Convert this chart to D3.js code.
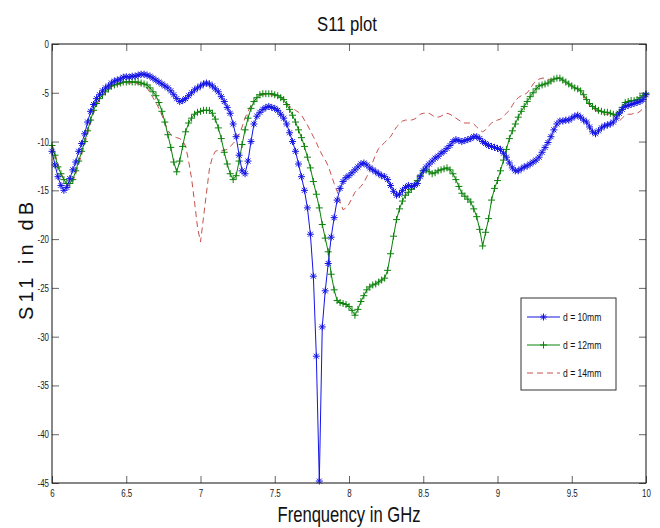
<!DOCTYPE html>
<html>
<head>
<meta charset="utf-8">
<script src="https://cdn.jsdelivr.net/npm/d3@7"></script>
<style>
  body { margin: 0; background: #fff; }
  svg { display: block; }
</style>
</head>
<body>
<svg id="chart" width="660" height="528"></svg>
<script>
// Frequency sweep: 6 GHz to 10 GHz in 0.02 GHz steps (201 samples)
const fStart = 6;
const fStep = 0.02;

// Return loss S11 (dB) for slot spacing d = 10 mm
const s11_d10 = [
  -11.0, -12.4, -13.6, -14.5, -15.0, -14.7, -13.8, -12.9, -12.1, -11.0,
  -10.2, -9.2, -8.0, -6.9, -6.2, -5.6, -5.2, -4.8, -4.5, -4.3,
  -4.0, -3.8, -3.7, -3.6, -3.4, -3.35, -3.4, -3.3, -3.3, -3.2,
  -3.1, -3.1, -3.2, -3.3, -3.5, -3.7, -3.9, -4.1, -4.3, -4.5,
  -4.8, -5.2, -5.6, -5.9, -5.8, -5.6, -5.3, -5.0, -4.7, -4.5,
  -4.3, -4.1, -4.0, -4.1, -4.3, -4.6, -4.9, -5.4, -5.9, -6.5,
  -7.1, -8.2, -9.5, -11.4, -13.0, -13.3, -12.0, -10.0, -8.2, -7.4,
  -7.0, -6.7, -6.5, -6.4, -6.5, -6.6, -6.8, -7.2, -7.6, -8.2,
  -9.1, -10.0, -11.0, -12.3, -13.6, -15.0, -16.8, -19.5, -23.8, -32.0,
  -44.8, -29.0, -25.3, -22.5, -19.8, -17.8, -16.0, -14.8, -14.1, -13.7,
  -13.5, -13.2, -12.9, -12.6, -12.3, -12.2, -12.4, -12.7, -12.9, -13.1,
  -13.3, -13.5, -13.6, -13.9, -14.5, -15.1, -15.5, -15.4, -15.0, -14.7,
  -14.5, -14.6, -14.5, -14.3, -13.6, -13.0, -12.6, -12.3, -12.0, -11.7,
  -11.5, -11.2, -11.0, -10.7, -10.4, -10.0, -9.8, -9.9, -10.0, -9.9,
  -9.8, -9.7, -9.5, -9.5, -9.7, -10.0, -10.2, -10.4, -10.5, -10.6,
  -10.7, -10.8, -11.2, -11.6, -12.2, -12.7, -13.0, -13.0, -12.8, -12.6,
  -12.5, -12.3, -12.1, -11.9, -11.6, -11.1, -10.6, -10.1, -9.5, -8.8,
  -8.2, -7.9, -7.9, -7.8, -7.8, -7.6, -7.4, -7.3, -7.5, -7.8,
  -8.0, -8.5, -9.0, -9.2, -8.9, -8.6, -8.4, -8.3, -8.2, -8.0,
  -7.6, -7.1, -6.7, -6.4, -6.3, -6.2, -6.1, -6.0, -5.9, -5.7,
  -5.2
];

// Return loss S11 (dB) for d = 12 mm
const s11_d12 = [
  -10.4, -11.4, -12.6, -13.3, -13.9, -14.3, -14.3, -13.9, -13.0, -12.0,
  -11.0, -10.0, -8.9, -7.8, -6.8, -6.1, -5.6, -5.2, -4.9, -4.6,
  -4.3, -4.2, -4.1, -4.0, -3.9, -3.9, -3.85, -3.9, -3.9, -3.9,
  -4.0, -4.1, -4.2, -4.5, -4.9, -5.3, -6.0, -6.9, -8.0, -9.3,
  -10.6, -12.1, -13.1, -12.0, -10.5, -9.0, -8.1, -7.6, -7.2, -7.0,
  -6.9, -6.8, -6.8, -6.8, -7.1, -7.7, -8.6, -9.7, -11.1, -12.3,
  -13.3, -13.9, -13.5, -12.0, -10.3, -8.8, -7.6, -6.6, -5.9, -5.5,
  -5.2, -5.1, -5.1, -5.1, -5.1, -5.2, -5.3, -5.5, -5.7, -6.2,
  -6.7, -7.3, -8.0, -8.8, -9.6, -10.5, -11.6, -12.7, -14.1, -15.4,
  -16.8, -18.5, -19.9, -21.3, -23.6, -25.2, -26.3, -26.5, -26.6, -26.7,
  -26.9, -27.3, -27.8, -27.2, -26.4, -25.8, -25.2, -24.9, -24.7, -24.6,
  -24.4, -24.2, -24.0, -23.2, -21.5, -19.7, -18.0, -16.9, -16.1, -15.5,
  -15.2, -14.9, -14.5, -14.0, -13.5, -13.0, -12.9, -13.1, -13.3, -13.2,
  -13.0, -12.9, -12.8, -12.7, -12.9, -13.3, -13.9, -14.6, -15.3, -15.6,
  -15.9, -16.2, -16.9, -17.7, -19.0, -20.7, -19.3, -17.9, -16.0, -14.8,
  -14.0, -13.0, -11.9, -10.8, -9.7, -8.9, -8.2, -7.5, -6.9, -6.4,
  -5.9, -5.4, -5.0, -4.6, -4.3, -4.2, -4.1, -4.0, -3.8, -3.6,
  -3.5, -3.5, -3.7, -3.9, -4.1, -4.3, -4.5, -4.6, -4.8, -5.2,
  -5.7, -6.1, -6.4, -6.6, -6.8, -6.9, -7.0, -7.0, -7.1, -7.2,
  -7.3, -7.0, -6.5, -6.0, -5.9, -5.8, -5.8, -5.7, -5.5, -5.3,
  -5.1
];

// Return loss S11 (dB) for d = 14 mm
const s11_d14 = [
  -10.3, -11.2, -12.3, -13.2, -13.9, -14.4, -14.5, -14.1, -13.3, -12.3,
  -11.3, -10.3, -9.2, -8.1, -7.1, -6.3, -5.7, -5.3, -5.0, -4.7,
  -4.4, -4.3, -4.2, -4.1, -4.0, -4.0, -4.0, -4.0, -4.0, -4.1,
  -4.2, -4.3, -4.5, -5.0, -5.5, -6.0, -6.6, -7.3, -8.1, -8.8,
  -9.3, -9.5, -9.6, -9.7, -9.9, -10.5, -12.0, -13.8, -16.2, -18.8,
  -20.3, -17.8, -15.3, -12.8, -11.6, -11.0, -10.9, -10.9, -10.9, -10.8,
  -10.5, -10.2, -9.8, -9.3, -8.5, -7.6, -6.9, -6.3, -5.9, -5.5,
  -5.3, -5.2, -5.2, -5.2, -5.2, -5.3, -5.3, -5.4, -5.6, -6.0,
  -6.4, -6.6, -6.8, -7.0, -7.3, -7.8, -8.3, -8.9, -9.5, -10.1,
  -10.8, -11.4, -11.9, -12.5, -13.4, -14.3, -15.1, -16.2, -17.0, -16.8,
  -16.4, -15.8, -15.2, -14.9, -14.6, -14.2, -13.6, -12.9, -12.1, -11.3,
  -10.7, -10.4, -10.1, -9.8, -9.5, -9.0, -8.5, -8.2, -7.9, -7.8,
  -7.8, -7.8, -7.7, -7.5, -7.2, -7.1, -7.1, -7.1, -7.3, -7.5,
  -7.5, -7.4, -7.2, -7.1, -7.2, -7.4, -7.6, -7.8, -8.0, -8.1,
  -8.1, -8.1, -8.2, -8.5, -8.8, -9.0, -8.8, -8.4, -8.1, -7.9,
  -7.8, -7.7, -7.4, -7.1, -6.8, -6.3, -5.8, -5.5, -5.3, -5.2,
  -5.0, -4.6, -4.1, -3.8, -3.6, -3.5, -3.5, -3.6, -3.7, -3.6,
  -3.5, -3.5, -3.7, -3.9, -4.1, -4.3, -4.5, -4.6, -4.8, -5.3,
  -5.9, -6.3, -6.6, -6.8, -7.0, -7.1, -7.2, -7.2, -7.3, -7.3,
  -7.6, -7.9, -7.6, -7.3, -7.2, -7.2, -7.1, -7.1, -6.9, -6.6,
  -6.4
];

const seriesLabels = ["d = 10mm", "d = 12mm", "d = 14mm"];
const xTicks = [6, 6.5, 7, 7.5, 8, 8.5, 9, 9.5, 10];
const yTicks = [0, -5, -10, -15, -20, -25, -30, -35, -40, -45];

// ---- layout ----
const svg = d3.select("#chart");
const plot = { left: 52, top: 44, right: 646, bottom: 483 };
const x = d3.scaleLinear().domain([6, 10]).range([plot.left, plot.right]);
const y = d3.scaleLinear().domain([0, -45]).range([plot.top, plot.bottom]);
const freqAt = i => fStart + i * fStep;

const narrow = "'Liberation Sans Narrow', 'Arial Narrow', 'Liberation Sans', sans-serif";

// squeeze a text element horizontally to a fraction of its natural width
function condense(sel, k) {
  sel.each(function () {
    const w = this.getComputedTextLength();
    if (w > 0) {
      d3.select(this).attr("textLength", w * k).attr("lengthAdjust", "spacingAndGlyphs");
    }
  });
}

// ---- axes (inward ticks on all four sides, MATLAB-style box) ----
function styleAxis(g) {
  g.select(".domain").remove();
  g.selectAll(".tick line").attr("stroke", "#666").attr("stroke-width", 1);
  g.selectAll(".tick text")
    .attr("font-family", narrow)
    .attr("font-size", 11)
    .attr("fill", "#222")
    .call(condense, 0.72);
}

svg.append("g")
  .attr("transform", `translate(0,${plot.bottom})`)
  .call(d3.axisBottom(x).tickValues(xTicks).tickSize(-7).tickPadding(6).tickFormat(d => String(d)))
  .call(styleAxis);

svg.append("g")
  .attr("transform", `translate(0,${plot.top})`)
  .call(d3.axisTop(x).tickValues(xTicks).tickSize(-7).tickFormat(""))
  .call(styleAxis);

svg.append("g")
  .attr("transform", `translate(${plot.left},0)`)
  .call(d3.axisLeft(y).tickValues(yTicks).tickSize(-7).tickPadding(3).tickFormat(d => String(d)))
  .call(styleAxis);

svg.append("g")
  .attr("transform", `translate(${plot.right},0)`)
  .call(d3.axisRight(y).tickValues(yTicks).tickSize(-7).tickFormat(""))
  .call(styleAxis);

// ---- curves ----
const series = [
  { values: s11_d14, color: "#c8504c", width: 1, dash: "6,4", marker: null },
  { values: s11_d12, color: "#0a820a", width: 1, dash: null, marker: "plus" },
  { values: s11_d10, color: "#1414e6", width: 1, dash: null, marker: "star" }
];

const markerPath = {
  plus: "M-3.5,0H3.5M0,-3.5V3.5",
  star: "M-3.5,0H3.5M0,-3.5V3.5M-2.5,-2.5L2.5,2.5M-2.5,2.5L2.5,-2.5"
};

const line = d3.line()
  .x((d, i) => x(freqAt(i)))
  .y(d => y(d));

const curves = svg.append("g");
series.forEach(s => {
  const g = curves.append("g");
  g.append("path")
    .datum(s.values)
    .attr("fill", "none")
    .attr("stroke", s.color)
    .attr("stroke-width", s.width)
    .attr("stroke-dasharray", s.dash)
    .attr("d", line);
  if (s.marker) {
    g.selectAll("path.mk")
      .data(s.values)
      .join("path")
      .attr("class", "mk")
      .attr("d", markerPath[s.marker])
      .attr("transform", (d, i) => `translate(${x(freqAt(i))},${y(d)})`)
      .attr("fill", "none")
      .attr("stroke", s.color)
      .attr("stroke-width", 1);
  }
});

// ---- plot box ----
svg.append("rect")
  .attr("x", plot.left).attr("y", plot.top)
  .attr("width", plot.right - plot.left).attr("height", plot.bottom - plot.top)
  .attr("fill", "none").attr("stroke", "#111").attr("stroke-width", 1);

// ---- legend ----
const legendOrder = [series[2], series[1], series[0]];
const legend = svg.append("g").attr("transform", "translate(521,298)");
legend.append("rect")
  .attr("width", 95).attr("height", 92)
  .attr("fill", "#fff").attr("stroke", "#333").attr("stroke-width", 1);
legendOrder.forEach((s, k) => {
  const ly = 19 + k * 28;
  legend.append("line")
    .attr("x1", 6).attr("x2", 39).attr("y1", ly).attr("y2", ly)
    .attr("stroke", s.color).attr("stroke-width", 1)
    .attr("stroke-dasharray", s.dash);
  if (s.marker) {
    legend.append("path")
      .attr("d", markerPath[s.marker])
      .attr("transform", `translate(22.5,${ly})`)
      .attr("fill", "none").attr("stroke", s.color).attr("stroke-width", 1);
  }
  legend.append("text")
    .attr("x", 42).attr("y", ly + 4)
    .attr("font-family", narrow).attr("font-size", 11).attr("fill", "#111")
    .text(seriesLabels[k])
    .call(condense, 0.78);
});

// ---- titles ----
svg.append("text")
  .attr("x", 347).attr("y", 31)
  .attr("text-anchor", "middle")
  .attr("font-family", narrow).attr("font-size", 20).attr("fill", "#111")
  .attr("textLength", 60).attr("lengthAdjust", "spacingAndGlyphs")
  .text("S11 plot");

svg.append("text")
  .attr("x", 349).attr("y", 522)
  .attr("text-anchor", "middle")
  .attr("font-family", narrow).attr("font-size", 22).attr("fill", "#111")
  .attr("textLength", 143).attr("lengthAdjust", "spacingAndGlyphs")
  .text("Frenquency in GHz");

svg.append("text")
  .attr("transform", "translate(33,261) rotate(-90)")
  .attr("text-anchor", "middle")
  .attr("font-family", "'Liberation Sans', Arial, sans-serif").attr("font-size", 20).attr("fill", "#111")
  .attr("textLength", 118).attr("lengthAdjust", "spacing")
  .text("S11 in dB");
</script>
</body>
</html>
